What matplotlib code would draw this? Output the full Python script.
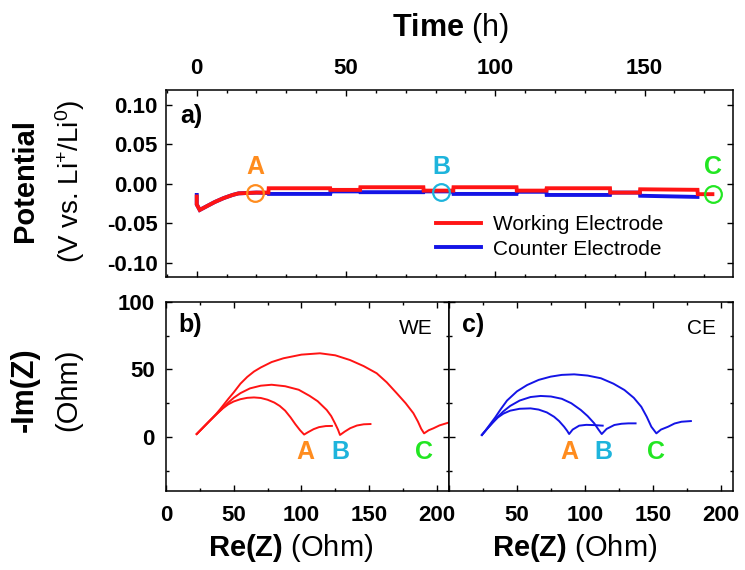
import numpy as np
import matplotlib
matplotlib.use('Agg')
import matplotlib.pyplot as plt
from matplotlib.ticker import MultipleLocator
from matplotlib.lines import Line2D

plt.rcParams['font.family'] = ['Liberation Sans', 'DejaVu Sans']
plt.rcParams['mathtext.fontset'] = 'custom'
plt.rcParams['mathtext.rm'] = 'Liberation Sans'
plt.rcParams['mathtext.bf'] = 'Liberation Sans:bold'
plt.rcParams['mathtext.it'] = 'Liberation Sans:italic'

# --- panel a: potential vs time ---
t_we = [0, 0, 1, 2, 4, 6, 9, 12, 14, 20, 24, 24.1, 44.7, 44.8, 54.7, 54.8, 75.9, 76,
        85.9, 86, 107.1, 107.2, 117.1, 117.2, 138.4, 138.5, 148.4, 148.5, 167.7, 167.8, 172.7]
v_we = [-0.016, -0.026, -0.033, -0.031, -0.027, -0.023, -0.018, -0.014, -0.012, -0.011, -0.011,
        -0.0055, -0.0055, -0.0076, -0.0076, -0.0042, -0.0042, -0.0085, -0.0085, -0.0042, -0.0042,
        -0.0085, -0.0085, -0.0055, -0.0055, -0.011, -0.011, -0.0068, -0.0075, -0.013, -0.013]
t_ce = [0, 0, 1, 2, 4, 6, 9, 12, 14, 20, 24, 24.1, 44.7, 44.8, 54.7, 54.8, 75.9, 76,
        85.9, 86, 107.1, 107.2, 117.1, 117.2, 138.4, 138.5, 148.4, 148.5, 167.7]
v_ce = [-0.014, -0.026, -0.033, -0.031, -0.027, -0.023, -0.018, -0.014, -0.012, -0.011, -0.0115,
        -0.0127, -0.0127, -0.0095, -0.0095, -0.0105, -0.0105, -0.0095, -0.0095, -0.0127, -0.0127,
        -0.0100, -0.0100, -0.014, -0.014, -0.011, -0.011, -0.015, -0.0165]

point_names = ['A', 'B', 'C']
point_t = [19.5, 81.8, 173]
point_v = [-0.011, -0.0097, -0.013]
point_colors = ['#FF8C1E', '#1EB4DC', '#22E622']

# --- panel b: WE impedance ---
we_A_re = [22.7, 27, 32, 37, 42, 46, 50, 55, 60, 65, 70, 75, 80, 84, 88, 92, 95.5, 99, 102,
           105, 109, 113, 118, 122.5]
we_A_im = [2.2, 6.6, 11.7, 16.6, 21.2, 24.2, 26.3, 28, 29, 29.3, 28.9, 27.6, 25.5, 23, 19.5,
           14.5, 9.5, 5, 1.8, 3.6, 5.8, 7.3, 8.1, 8.2]
we_B_re = [22.7, 27, 32, 37, 42, 46, 50, 55, 62, 70, 78, 88, 98, 106, 112, 118.7, 122, 124.8,
           127, 128.5, 132, 136, 141, 146, 151]
we_B_im = [2.2, 6.6, 11.7, 16.6, 21.5, 25.5, 29, 32.5, 36, 38, 38.7, 37.6, 35, 30.5, 26.5, 20,
           15.5, 10.1, 5.5, 1.5, 4, 6.5, 8.5, 9.4, 9.6]
we_C_re = [22.7, 27, 32, 37, 40, 43, 46, 50, 55, 60, 65, 70, 78, 86.7, 100, 113.7, 125, 135.9,
           146, 155.6, 163, 170.4, 177, 182.7, 186, 188.5, 190.6, 194, 197.4, 202, 208.5, 214]
we_C_im = [2.2, 6.6, 11.7, 17, 20.6, 24.4, 28.2, 33, 39.5, 44.5, 48.5, 51.5, 55.5, 58.3, 61, 62,
           60.5, 57, 52.5, 47.2, 40.5, 32.4, 25, 17.6, 11.5, 6, 2.7, 5, 6.4, 8.6, 10.6, 11.3]

# --- panel c: CE impedance ---
ce_A_re = [24.2, 28, 32, 36, 40, 45, 52, 60, 66, 72, 77.3, 81, 84.7, 87, 88.4, 91, 95.8,
           101, 107, 113.1]
ce_A_im = [1.5, 6, 10.5, 14.5, 17.3, 19.5, 20.9, 21.2, 20.3, 18.2, 15, 11.8, 7.6, 4.5, 2.2, 5.5,
           8.4, 9, 8.8, 8.4]
ce_B_re = [24.2, 28, 32, 36, 40, 45, 52, 60, 67.4, 75, 83, 90, 97, 102, 106.9, 110, 112.4,
           116, 121.7, 127, 132, 137.3]
ce_B_im = [1.5, 6, 10.5, 15, 19, 23, 27, 29.6, 30.4, 30, 28.3, 25, 20, 15.5, 10.1, 5.5, 2.2,
           6, 8.9, 9.8, 10.1, 10.1]
ce_C_re = [24.2, 27, 30.5, 34, 38, 42.7, 50, 57.5, 66, 74.8, 83, 92.1, 102, 111.8, 121, 129.1,
           136, 141.5, 145.5, 148.9, 152.6, 156, 161.2, 166, 171.1, 178]
ce_C_im = [1.5, 5, 9.8, 14.5, 20.5, 27, 33.8, 38.5, 42.3, 44.7, 46, 46.4, 45.5, 43.5, 39.5,
           34.8, 29, 22.4, 15, 7.6, 2.7, 5.5, 7.6, 10, 11.3, 11.8]

label_y = -10.9
we_label_re = [102.7, 128.5, 190.5]
ce_label_re = [88.4, 113.8, 152.6]

red = '#FF1414'
blue = '#1414E6'

fig = plt.figure(figsize=(7.45, 5.70), dpi=100)
ax1 = fig.add_axes([0.2228, 0.5140, 0.7611, 0.3281])
axb = fig.add_axes([0.2228, 0.1386, 0.3799, 0.3316])
axc = fig.add_axes([0.6027, 0.1386, 0.3812, 0.3316])

for ax in (ax1, axb, axc):
    ax.tick_params(which='both', direction='in', top=True, right=True, width=1.0)
    ax.tick_params(which='major', length=4.5, labelsize=16)
    ax.tick_params(which='minor', length=2.5)
    for s in ax.spines.values():
        s.set_linewidth(1.1)

# panel a
ax1.plot(t_ce, v_ce, color=blue, lw=2.8, solid_joinstyle='miter')
ax1.plot(t_we, v_we, color=red, lw=2.8, solid_joinstyle='miter')
for n, tt, vv, c in zip(point_names, point_t, point_v, point_colors):
    ax1.plot(tt, vv, 'o', mfc='none', mec=c, ms=12, mew=1.6)
    ax1.text(tt, 0.022, n, color=c, fontsize=18, fontweight='bold', ha='center', va='center')
ax1.set_xlim(-10.3, 179.6)
ax1.set_ylim(-0.118, 0.119)
ax1.set_xticks([0, 50, 100, 150])
ax1.set_xticklabels(['0', '50', '100', '150'], fontweight='bold')
ax1.xaxis.set_minor_locator(MultipleLocator(10))
ax1.set_yticks([-0.10, -0.05, 0.00, 0.05, 0.10])
ax1.set_yticklabels(['-0.10', '-0.05', '0.00', '0.05', '0.10'], fontweight='bold')
ax1.xaxis.tick_top()
ax1.tick_params(axis='x', which='both', bottom=True, labelbottom=False, labeltop=True, pad=8)
ax1.tick_params(axis='y', pad=6)
ax1.text(0.025, 0.86, 'a)', transform=ax1.transAxes, fontsize=18, fontweight='bold',
         ha='left', va='center')
handles = [Line2D([], [], color=red, lw=2.8), Line2D([], [], color=blue, lw=2.8)]
ax1.legend(handles, ['Working Electrode', 'Counter Electrode'], loc='upper left',
           bbox_to_anchor=(0.476, 0.33), frameon=False, fontsize=15, borderpad=0,
           borderaxespad=0, handlelength=2.15, handletextpad=0.6, labelspacing=0.25)

# panel b
axb.plot(we_A_re, we_A_im, color=red, lw=1.4)
axb.plot(we_B_re, we_B_im, color=red, lw=1.4)
axb.plot(we_C_re, we_C_im, color=red, lw=1.4)
for n, x, c in zip(point_names, we_label_re, point_colors):
    axb.text(x, label_y, n, color=c, fontsize=18, fontweight='bold', ha='center', va='center')
axb.text(0.943, 0.862, 'WE', transform=axb.transAxes, fontsize=15, ha='right', va='center')
axb.text(0.042, 0.878, 'b)', transform=axb.transAxes, fontsize=18, fontweight='bold',
         ha='left', va='center')

# panel c
axc.plot(ce_A_re, ce_A_im, color=blue, lw=1.4)
axc.plot(ce_B_re, ce_B_im, color=blue, lw=1.4)
axc.plot(ce_C_re, ce_C_im, color=blue, lw=1.4)
for n, x, c in zip(point_names, ce_label_re, point_colors):
    axc.text(x, label_y, n, color=c, fontsize=18, fontweight='bold', ha='center', va='center')
axc.text(0.94, 0.862, 'CE', transform=axc.transAxes, fontsize=15, ha='right', va='center')
axc.text(0.045, 0.878, 'c)', transform=axc.transAxes, fontsize=18, fontweight='bold',
         ha='left', va='center')

for ax in (axb, axc):
    ax.set_xlim(0, 209)
    ax.set_ylim(-40, 100)
    ax.set_xticks([0, 50, 100, 150, 200])
    ax.set_yticks([0, 50, 100])
    ax.xaxis.set_minor_locator(MultipleLocator(25))
    ax.yaxis.set_minor_locator(MultipleLocator(25))
    ax.tick_params(axis='x', pad=10)
    ax.tick_params(axis='y', pad=8)
axb.set_xticklabels(['0', '50', '100', '150', '200'], fontweight='bold')
axb.set_yticklabels(['0', '50', '100'], fontweight='bold')
axc.set_xticklabels(['', '50', '100', '150', '200'], fontweight='bold')
axc.set_yticklabels([])

# axis labels
fig.text(0.6054, 0.951, r'$\mathbf{Time}$ (h)', fontsize=22, ha='center', va='center')
fig.text(0.0336, 0.684, 'Potential', fontsize=21, fontweight='bold', rotation=90,
         ha='center', va='center')
fig.text(0.094, 0.682, r'(V vs. Li$^{+}$/Li$^{0}$)', fontsize=20, rotation=90,
         ha='center', va='center')
fig.text(0.0336, 0.316, '-Im(Z)', fontsize=22, fontweight='bold', rotation=90,
         ha='center', va='center')
fig.text(0.091, 0.316, '(Ohm)', fontsize=21, rotation=90, ha='center', va='center')
fig.text(0.3906, 0.0386, r'$\mathbf{Re(Z)}$ (Ohm)', fontsize=21, ha='center', va='center')
fig.text(0.7718, 0.0386, r'$\mathbf{Re(Z)}$ (Ohm)', fontsize=21, ha='center', va='center')

fig.savefig('out.png', dpi=100)
